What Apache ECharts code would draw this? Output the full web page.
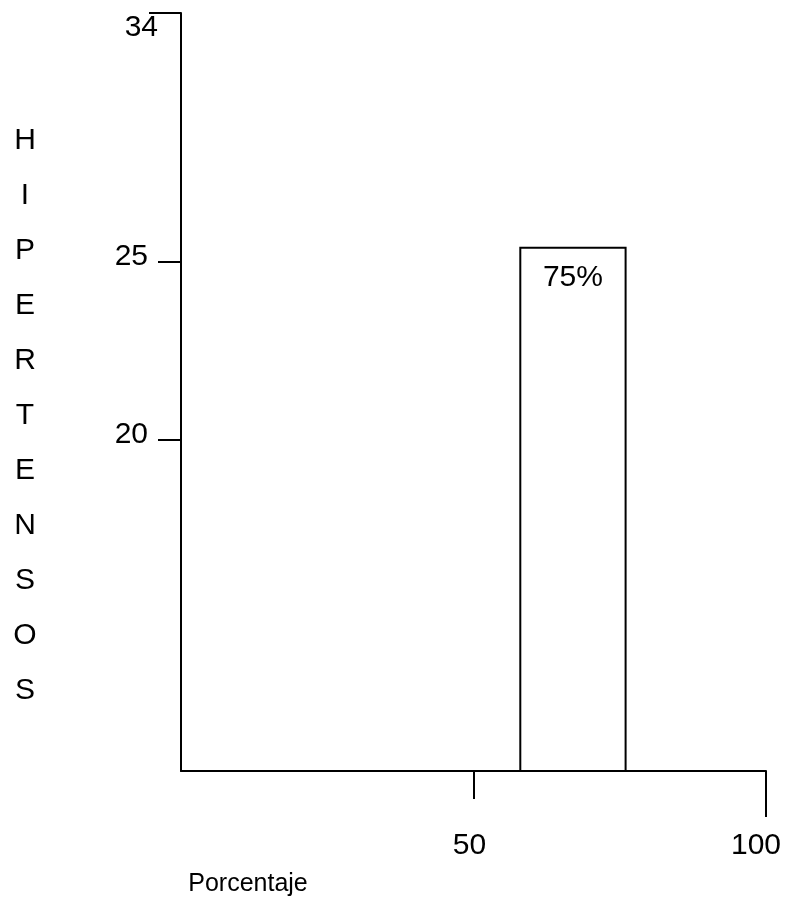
<!DOCTYPE html>
<html>
<head>
<meta charset="utf-8">
<script src="https://cdn.jsdelivr.net/npm/echarts@6/dist/echarts.min.js"></script>
<style>html,body{margin:0;padding:0;background:#fff}#c{width:786px;height:898px}</style>
</head>
<body>
<div id="c"></div>
<script>
// ---- data ----
const yTitle = 'HIPERTENSOS';
const xTitle = 'Porcentaje';
const yTickValues = [20, 25];
const yTopValue = [34];
const xTickMid = [50];
const xTickEnd = [100];
const barStart = [58];
const barEnd = [76];
const barValues = [25.5];
const barLabels = ['75%'];

// ---- non-linear (hand drawn) vertical scale: value -> axis fraction ----
const anchorVals = [0, 20, 25, 34];
const anchorPos = [0, 0.4367, 0.6722, 1];
function yScale(v) {
  for (let i = 1; i < anchorVals.length; i++) {
    if (v <= anchorVals[i]) {
      const t = (v - anchorVals[i - 1]) / (anchorVals[i] - anchorVals[i - 1]);
      return anchorPos[i - 1] + t * (anchorPos[i] - anchorPos[i - 1]);
    }
  }
  return 1;
}
const FONT = 'Liberation Sans, Arial, sans-serif';
const FS = 30;
function labelFor(vals) {
  const mapped = vals.map(yScale);
  return function (v) {
    const i = mapped.findIndex(m => Math.abs(m - v) < 1e-6);
    return i >= 0 ? String(vals[i]) : '';
  };
}

const chart = echarts.init(document.getElementById('c'), null, {renderer: 'canvas'});
const data = barStart.map((s, i) => [s, barEnd[i], yScale(barValues[i]), barLabels[i]]);

chart.setOption({
  animation: false,
  backgroundColor: '#fff',
  grid: {left: 181, right: 20, top: 13, bottom: 127, containLabel: false},
  xAxis: [
    {
      type: 'value', min: 0, max: 100, position: 'bottom',
      axisLine: {show: true, onZero: false, lineStyle: {color: '#000', width: 2}},
      axisTick: {show: true, customValues: xTickEnd, length: 46, lineStyle: {color: '#000', width: 2}},
      axisLabel: {show: true, customValues: xTickEnd, margin: 75, verticalAlign: 'middle',
        padding: [0, 20, 0, 0], color: '#000', fontSize: FS, fontFamily: FONT},
      splitLine: {show: false}
    },
    {
      type: 'value', min: 0, max: 100, position: 'bottom', offset: 6,
      axisLine: {show: false},
      axisTick: {show: true, customValues: xTickMid, length: 28, lineStyle: {color: '#000', width: 2}},
      axisLabel: {show: true, customValues: xTickMid, margin: 69, verticalAlign: 'middle',
        padding: [0, 8, 0, 0], color: '#000', fontSize: FS, fontFamily: FONT},
      splitLine: {show: false}
    }
  ],
  yAxis: [
    {
      type: 'value', min: 0, max: 1, position: 'left',
      axisLine: {show: true, onZero: false, lineStyle: {color: '#000', width: 2}},
      axisTick: {show: true, customValues: yTickValues.map(yScale), length: 23, lineStyle: {color: '#000', width: 2}},
      axisLabel: {show: true, customValues: yTickValues.map(yScale), margin: 33, verticalAlign: 'bottom',
        lineHeight: 10, formatter: labelFor(yTickValues),
        color: '#000', fontSize: FS, fontFamily: FONT},
      splitLine: {show: false}
    },
    {
      type: 'value', min: 0, max: 1, position: 'left',
      axisLine: {show: false},
      axisTick: {show: true, customValues: yTopValue.map(yScale), length: 32, lineStyle: {color: '#000', width: 2}},
      axisLabel: {show: true, customValues: yTopValue.map(yScale), margin: 23, verticalAlign: 'top',
        lineHeight: 29, formatter: labelFor(yTopValue),
        color: '#000', fontSize: FS, fontFamily: FONT},
      splitLine: {show: false}
    }
  ],
  graphic: [
    {
      type: 'text', x: 25, y: 416, silent: true,
      style: {text: yTitle.split('').join('\n'), fill: '#000', fontSize: FS, fontFamily: FONT,
        lineHeight: 55, align: 'center', verticalAlign: 'middle'}
    },
    {
      type: 'text', x: 248, y: 884, silent: true,
      style: {text: xTitle, fill: '#000', fontSize: 25, fontFamily: FONT, align: 'center', verticalAlign: 'middle'}
    }
  ],
  series: [{
    type: 'custom',
    xAxisIndex: 0, yAxisIndex: 0,
    encode: {x: [0, 1], y: 2},
    data: data,
    renderItem: function (params, api) {
      const p0 = api.coord([api.value(0), 0]);
      const p1 = api.coord([api.value(1), api.value(2)]);
      const label = data[params.dataIndex][3];
      return {
        type: 'group',
        children: [
          {type: 'rect', shape: {x: p0[0], y: p1[1], width: p1[0] - p0[0], height: p0[1] - p1[1]},
            style: {fill: '#fff', stroke: '#000', lineWidth: 2}},
          {type: 'text', x: (p0[0] + p1[0]) / 2, y: p1[1] + 30,
            style: {text: label, fill: '#000', fontSize: FS, fontFamily: FONT, align: 'center', verticalAlign: 'middle'}}
        ]
      };
    }
  }]
});
</script>
</body>
</html>
